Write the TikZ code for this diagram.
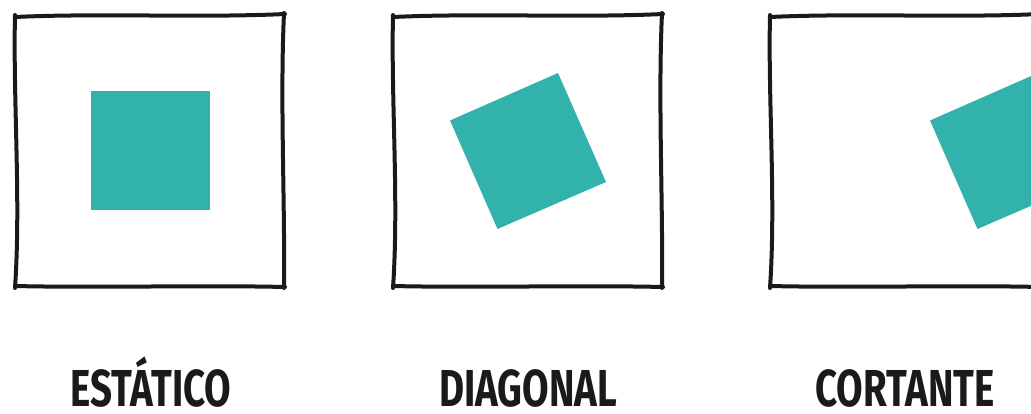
\documentclass[tikz,border=0pt]{standalone}
\usepackage{fontspec}
\newfontfamily\hand{Fira Sans}
\definecolor{tealsq}{HTML}{31B3AC}
\definecolor{ink}{HTML}{1A1A1A}
\begin{document}
\begin{tikzpicture}[x=1pt,y=-1pt,
  framestroke/.style={draw=ink,line width=4pt,line cap=round,line join=round},
  sq/.style={fill=tealsq,draw=none},
  lbl/.style={font=\hand\bfseries\fontsize{52}{52}\selectfont,text=ink,inner sep=0pt,anchor=base}]
\useasboundingbox (0,0) rectangle (1031,413);
\fill[white] (0,0) rectangle (1031,413);
% squares
\path[sq] (91,91) rectangle (210,210);
\path[sq] (450,120.5) -- (558,73) -- (606,182) -- (497.5,229) -- cycle;
\path[sq] (930,120.5) -- (1038,73) -- (1086,182) -- (977.5,229) -- cycle;
% frames
\foreach \ox in {0,378,755}{
  \begin{scope}[shift={(\ox,0)}]
    \draw[framestroke] (15,17) .. controls (100,13) and (200,18) .. (285,14);
    \draw[framestroke] (284,13) .. controls (280,100) and (285,200) .. (284,288);
    \draw[framestroke] (285,287) .. controls (200,285) and (100,288) .. (15,286);
    \draw[framestroke] (15,288) .. controls (21,200) and (13,100) .. (15,15);
  \end{scope}
}
% labels
\node[lbl] (l1) at (151,406) {\scalebox{0.74}[1]{ESTÁTICO}};
\node[lbl] (l2) at (528,406) {\scalebox{0.74}[1]{DIAGONAL}};
\node[lbl] (l3) at (905,406) {\scalebox{0.74}[1]{CORTANTE}};
\end{tikzpicture}
\end{document}
